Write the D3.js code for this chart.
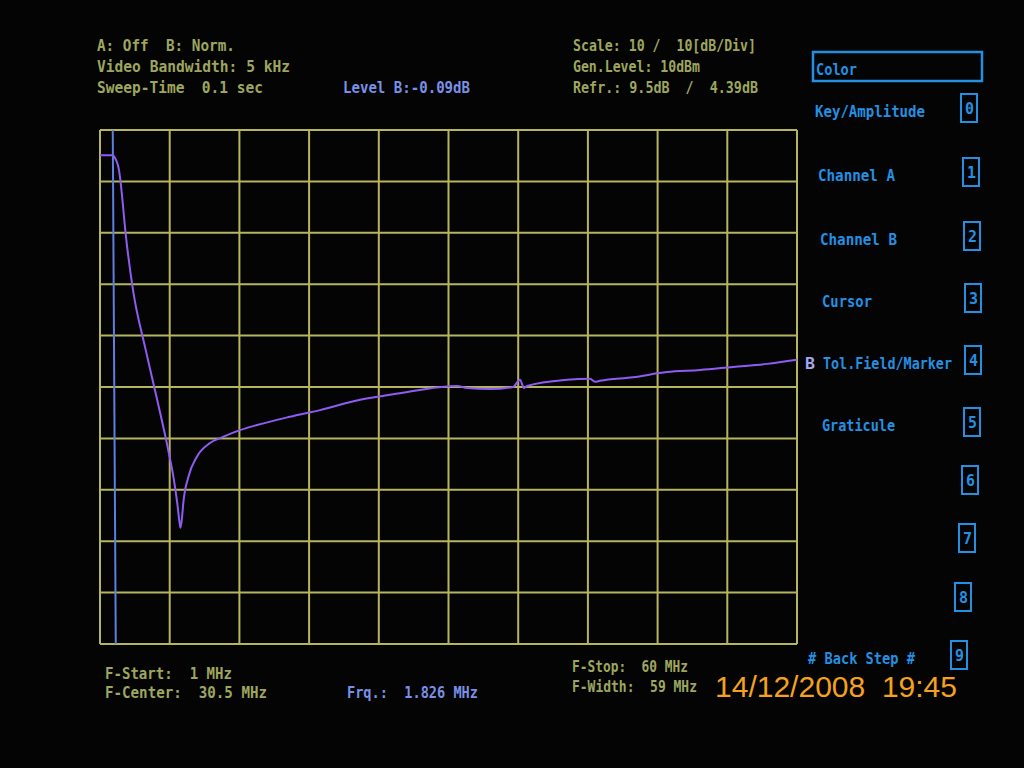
<!DOCTYPE html>
<meta charset="utf-8">
<script src="https://d3js.org/d3.v7.min.js"></script>
<title>Sweep B - 1 to 60 MHz</title>
<style>
body { margin: 0; background: #040404; }
svg { display: block; }
.osd { font-family: "DejaVu Sans Mono", monospace; font-weight: bold; font-size: 15px; }
</style>
<svg width="1024" height="768"></svg>
<script>

// trace B
var freqMHz = [1.0, 2.02, 2.35, 2.61, 2.75, 3.2, 3.82, 4.81, 5.8, 6.78, 7.26, 7.54, 7.73, 7.81,
  7.94, 8.05, 8.48, 9.19, 10.31, 11.41, 12.85, 14.29, 17.08, 19.62, 23.01, 26.4, 31.22, 32.07,
  34.02, 35.96, 36.55, 36.89, 37.15, 40.53, 42.48, 42.9, 43.32, 46.12, 48.99, 51.79, 54.58, 57.46, 60.0];
var levelDb = [0.1, 0.1, -0.8, -2.8, -5.3, -15.8, -26.5, -37.2, -47.1, -57.3, -63.1, -67.6, -71.3, -72.4,
  -70.5, -67.6, -62.5, -58.6, -55.9, -54.7, -53.4, -52.4, -50.8, -49.5, -47.5, -46.2, -44.8, -45.2,
  -45.4, -45.0, -43.6, -45.2, -44.8, -43.6, -43.4, -44.0, -43.8, -43.1, -42.1, -41.7, -41.1, -40.5, -39.7];

var fStart = 1, fStop = 60, markerFreq = 1.826;
var dbTop = 5, dbPerDiv = 10, divisions = 10;

var headerLeft = ["A: Off  B: Norm.", "Video Bandwidth: 5 kHz", "Sweep-Time  0.1 sec"];
var headerRight = ["Scale: 10 /  10[dB/Div]", "Gen.Level: 10dBm", "Refr.: 9.5dB  /  4.39dB"];
var menuItems = ["Key/Amplitude", "Channel A", "Channel B", "Cursor", "Tol.Field/Marker", "Graticule", "", "", "", "# Back Step #"];

var svg = d3.select("svg");
var plot = { left: 100, right: 797, top: 130, bottom: 644 };

var x = d3.scaleLinear().domain([fStart, fStop]).range([plot.left, plot.right]);
var y = d3.scaleLinear().domain([dbTop, dbTop - dbPerDiv * divisions]).range([plot.top, plot.bottom]);

var grid = svg.append("g").attr("stroke", "#b6b45c").attr("stroke-width", 2);
var fTicks = d3.range(divisions + 1).map(i => fStart + i * (fStop - fStart) / divisions);
var dTicks = d3.range(divisions + 1).map(i => dbTop - i * dbPerDiv);

grid.selectAll("line.v").data(fTicks).join("line")
    .attr("class", "v")
    .attr("x1", d => x(d)).attr("x2", d => x(d))
    .attr("y1", plot.top).attr("y2", plot.bottom);
grid.selectAll("line.h").data(dTicks).join("line")
    .attr("class", "h")
    .attr("x1", plot.left).attr("x2", plot.right)
    .attr("y1", d => y(d)).attr("y2", d => y(d));

// marker
svg.append("line")
    .attr("x1", x(markerFreq) + 3).attr("x2", x(markerFreq) + 6)
    .attr("y1", plot.top).attr("y2", plot.bottom)
    .attr("stroke", "#5e7ee0").attr("stroke-width", 2);

var line = d3.line()
    .x((d, i) => x(freqMHz[i]))
    .y(d => y(d))
    .curve(d3.curveMonotoneX);

svg.append("path")
    .datum(levelDb)
    .attr("fill", "none")
    .attr("stroke", "#8e5cf2")
    .attr("stroke-width", 2)
    .attr("d", line);

function osd(txt, tx, ty, len, color) {
  svg.append("text")
      .attr("class", "osd")
      .attr("x", tx).attr("y", ty)
      .attr("fill", color)
      .attr("textLength", len)
      .attr("lengthAdjust", "spacingAndGlyphs")
      .attr("xml:space", "preserve")
      .style("white-space", "pre")
      .text(txt);
}

var khaki = "#9ea65e", lav = "#7a90e6", cyan = "#2590e2";

var hlLens = [138, 193, 166];
headerLeft.forEach((t, i) => osd(t, 97, 51 + i * 21, hlLens[i], khaki));
var hrLens = [183, 127, 185];
headerRight.forEach((t, i) => osd(t, 573, 51 + i * 21, hrLens[i], khaki));
osd("Level B:-0.09dB", 343, 93, 127, lav);

osd("F-Start:  1 MHz", 105, 679, 127, khaki);
osd("F-Center:  30.5 MHz", 105, 698, 162, khaki);
osd("Frq.:  1.826 MHz", 347, 698, 131, lav);
osd("F-Stop:  60 MHz", 572, 672, 116, khaki);
osd("F-Width:  59 MHz", 572, 692, 125, khaki);

// menu
svg.append("rect")
    .attr("x", 813).attr("y", 52).attr("width", 169).attr("height", 29)
    .attr("fill", "none").attr("stroke", cyan).attr("stroke-width", 2.5);
osd("Color", 816, 75, 41, cyan);

var menuY = [117, 181, 245, 307, 369, 431, 489, 547, 606, 664];
var menuX = [815, 818, 820, 822, 823, 822, 0, 0, 0, 808];
var menuLen = [110, 77, 77, 50, 129, 73, 0, 0, 0, 107];
var boxX = [961, 963, 964, 965, 965, 964, 962, 959, 955, 951];

menuItems.forEach((t, i) => {
  if (t) osd(t, menuX[i], menuY[i], menuLen[i], cyan);
  svg.append("rect")
      .attr("x", boxX[i]).attr("y", menuY[i] - 23).attr("width", 16).attr("height", 28)
      .attr("fill", "none").attr("stroke", cyan).attr("stroke-width", 2);
  osd(String(i), boxX[i] + 4, menuY[i] - 3, 9, cyan);
});
osd("B", 805, 369, 10, "#a6a6f2");

svg.append("text")
    .attr("x", 715).attr("y", 697)
    .attr("fill", "#f4a21e")
    .attr("font-family", "Liberation Sans, Arial, sans-serif")
    .attr("font-size", 29)
    .attr("textLength", 242)
    .attr("lengthAdjust", "spacingAndGlyphs")
    .attr("xml:space", "preserve")
    .style("white-space", "pre")
    .text("14/12/2008  19:45");

</script>
